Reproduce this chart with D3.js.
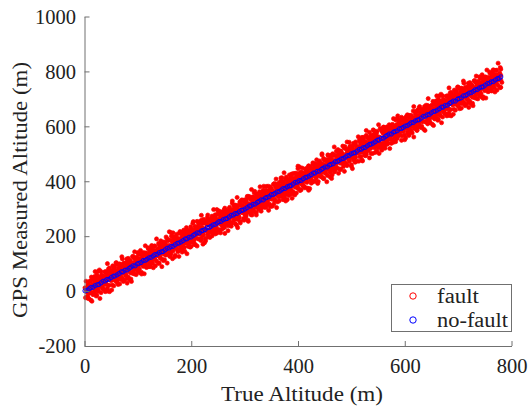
<!DOCTYPE html>
<html>
<head>
<meta charset="utf-8">
<script src="https://cdn.jsdelivr.net/npm/d3@7"></script>
<style>
html,body{margin:0;padding:0;background:#fff;}
svg{display:block;}
text{font-family:"Liberation Serif","Times New Roman",serif;fill:#222;}
</style>
</head>
<body>
<svg id="chart" width="528" height="408"></svg>
<script>
// ---- data ----
const xTicks = [0, 200, 400, 600, 800];
const yTicks = [-200, 0, 200, 400, 600, 800, 1000];
const seriesNames = ["fault", "no-fault"];
const seriesColors = ["#ff0000", "#0000ff"];

// fault: true altitude (m)
const faultTrue = [
0,1,2,2,4,5,6,7,8,10,10,11,13,14,14,16,17,18,19,19,
20,21,22,22,24,25,26,27,28,30,30,31,33,34,34,36,37,38,39,39,
40,41,42,42,44,45,46,47,48,50,50,51,53,54,54,56,57,58,59,59,
60,61,62,62,64,65,66,67,68,70,70,71,73,74,74,76,77,78,79,79,
80,81,82,82,84,85,86,87,88,90,90,91,93,94,94,96,97,98,99,99,
100,101,102,102,104,105,106,107,108,110,110,111,113,114,114,116,117,118,119,119,
120,121,122,122,124,125,126,127,128,130,130,131,133,134,134,136,137,138,139,139,
140,141,142,142,144,145,146,147,148,150,150,151,153,154,154,156,157,158,159,159,
160,161,162,162,164,165,166,167,168,170,170,171,173,174,174,176,177,178,179,179,
180,181,182,182,184,185,186,187,188,190,190,191,193,194,194,196,197,198,199,199,
200,201,202,202,204,205,206,207,208,210,210,211,213,214,214,216,217,218,219,219,
220,221,222,222,224,225,226,227,228,230,230,231,233,234,234,236,237,238,239,239,
240,241,242,242,244,245,246,247,248,250,250,251,253,254,254,256,257,258,259,259,
260,261,262,262,264,265,266,267,268,270,270,271,273,274,274,276,277,278,279,279,
280,281,282,282,284,285,286,287,288,290,290,291,293,294,294,296,297,298,299,299,
300,301,302,302,304,305,306,307,308,310,310,311,313,314,314,316,317,318,319,319,
320,321,322,322,324,325,326,327,328,330,330,331,333,334,334,336,337,338,339,339,
340,341,342,342,344,345,346,347,348,350,350,351,353,354,354,356,357,358,359,359,
360,361,362,362,364,365,366,367,368,370,370,371,373,374,374,376,377,378,379,379,
380,381,382,382,384,385,386,387,388,390,390,391,393,394,394,396,397,398,399,399,
400,401,402,402,404,405,406,407,408,410,410,411,413,414,414,416,417,418,419,419,
420,421,422,422,424,425,426,427,428,430,430,431,433,434,434,436,437,438,439,439,
440,441,442,442,444,445,446,447,448,450,450,451,453,454,454,456,457,458,459,459,
460,461,462,462,464,465,466,467,468,470,470,471,473,474,474,476,477,478,479,479,
480,481,482,482,484,485,486,487,488,490,490,491,493,494,494,496,497,498,499,499,
500,501,502,502,504,505,506,507,508,510,510,511,513,514,514,516,517,518,519,519,
520,521,522,522,524,525,526,527,528,530,530,531,533,534,534,536,537,538,539,539,
540,541,542,542,544,545,546,547,548,550,550,551,553,554,554,556,557,558,559,559,
560,561,562,562,564,565,566,567,568,570,570,571,573,574,574,576,577,578,579,579,
580,581,582,582,584,585,586,587,588,590,590,591,593,594,594,596,597,598,599,599,
600,601,602,602,604,605,606,607,608,610,610,611,613,614,614,616,617,618,619,619,
620,621,622,622,624,625,626,627,628,630,630,631,633,634,634,636,637,638,639,639,
640,641,642,642,644,645,646,647,648,650,650,651,653,654,654,656,657,658,659,659,
660,661,662,662,664,665,666,667,668,670,670,671,673,674,674,676,677,678,679,679,
680,681,682,682,684,685,686,687,688,690,690,691,693,694,694,696,697,698,699,699,
700,701,702,702,704,705,706,707,708,710,710,711,713,714,714,716,717,718,719,719,
720,721,722,722,724,725,726,727,728,730,730,731,733,734,734,736,737,738,739,739,
740,741,742,742,744,745,746,747,748,750,750,751,753,754,754,756,757,758,759,759,
760,761,762,762,764,765,766,767,768,770,770,771,773,774,774,776,777,778,779,779,
5,6,7,7,9,10,11,12,13,15,15,16,18,19,19,21,22,23,24,24,
25,26,27,27,29,30,31,32,33,35,35,36,38,39,39,41,42,43,44,44,
45,46,47,47,49,50,51,52,53,55,55,56,58,59,59,61,62,63,64,64,
65,66,67,67,69,70,71,72,73,75,75,76,78,79,79,81,82,83,84,84,
85,86,87,87,89,90,91,92,93,95,95,96,98,99,99,101,102,103,104,104,
105,106,107,107,109,110,111,112,113,115,115,116,118,119,119,121,122,123,124,124,
125,126,127,127,129,130,131,132,133,135,135,136,138,139,139,141,142,143,144,144,
145,146,147,147,149,150,151,152,153,155,155,156,158,159,159,161,162,163,164,164,
165,166,167,167,169,170,171,172,173,175,175,176,178,179,179,181,182,183,184,184,
185,186,187,187,189,190,191,192,193,195,195,196,198,199,199,201,202,203,204,204,
205,206,207,207,209,210,211,212,213,215,215,216,218,219,219,221,222,223,224,224,
225,226,227,227,229,230,231,232,233,235,235,236,238,239,239,241,242,243,244,244,
245,246,247,247,249,250,251,252,253,255,255,256,258,259,259,261,262,263,264,264,
265,266,267,267,269,270,271,272,273,275,275,276,278,279,279,281,282,283,284,284,
285,286,287,287,289,290,291,292,293,295,295,296,298,299,299,301,302,303,304,304,
305,306,307,307,309,310,311,312,313,315,315,316,318,319,319,321,322,323,324,324,
325,326,327,327,329,330,331,332,333,335,335,336,338,339,339,341,342,343,344,344,
345,346,347,347,349,350,351,352,353,355,355,356,358,359,359,361,362,363,364,364,
365,366,367,367,369,370,371,372,373,375,375,376,378,379,379,381,382,383,384,384,
385,386,387,387,389,390,391,392,393,395,395,396,398,399,399,401,402,403,404,404,
405,406,407,407,409,410,411,412,413,415,415,416,418,419,419,421,422,423,424,424,
425,426,427,427,429,430,431,432,433,435,435,436,438,439,439,441,442,443,444,444,
445,446,447,447,449,450,451,452,453,455,455,456,458,459,459,461,462,463,464,464,
465,466,467,467,469,470,471,472,473,475,475,476,478,479,479,481,482,483,484,484,
485,486,487,487,489,490,491,492,493,495,495,496,498,499,499,501,502,503,504,504,
505,506,507,507,509,510,511,512,513,515,515,516,518,519,519,521,522,523,524,524,
525,526,527,527,529,530,531,532,533,535,535,536,538,539,539,541,542,543,544,544,
545,546,547,547,549,550,551,552,553,555,555,556,558,559,559,561,562,563,564,564,
565,566,567,567,569,570,571,572,573,575,575,576,578,579,579,581,582,583,584,584,
585,586,587,587,589,590,591,592,593,595,595,596,598,599,599,601,602,603,604,604,
605,606,607,607,609,610,611,612,613,615,615,616,618,619,619,621,622,623,624,624,
625,626,627,627,629,630,631,632,633,635,635,636,638,639,639,641,642,643,644,644,
645,646,647,647,649,650,651,652,653,655,655,656,658,659,659,661,662,663,664,664,
665,666,667,667,669,670,671,672,673,675,675,676,678,679,679,681,682,683,684,684,
685,686,687,687,689,690,691,692,693,695,695,696,698,699,699,701,702,703,704,704,
705,706,707,707,709,710,711,712,713,715,715,716,718,719,719,721,722,723,724,724,
725,726,727,727,729,730,731,732,733,735,735,736,738,739,739,741,742,743,744,744,
745,746,747,747,749,750,751,752,753,755,755,756,758,759,759,761,762,763,764,764,
765,766,767,767,769,770,771,772,773,775,775,776,778,779,779,781
];
// fault: GPS measured altitude (m)
const faultGPS = [
12,-24,5,36,-4,-26,24,12,-7,37,8,-33,22,45,-5,16,39,7,71,-10,
34,15,58,-15,31,4,51,26,-27,46,71,18,35,7,54,27,70,-2,50,35,
68,24,100,9,50,21,84,44,61,4,74,59,41,84,19,73,50,103,39,60,
32,71,97,46,68,26,87,57,97,117,47,86,68,40,100,79,59,117,29,87,
99,51,82,114,70,108,44,98,87,127,64,97,143,85,109,60,124,78,103,87,
93,134,80,118,148,102,68,128,117,94,140,63,115,139,103,129,88,158,113,137,
125,102,148,89,136,163,118,147,85,131,164,116,142,109,190,132,154,101,168,129,
127,163,140,183,117,152,161,111,179,144,174,131,156,102,190,166,140,186,128,165,
131,213,151,184,164,146,197,176,124,168,197,156,178,192,143,168,211,181,154,191,
176,192,142,215,175,205,159,189,175,231,206,136,192,219,173,203,160,234,193,213,
201,181,247,195,221,170,236,195,216,234,164,224,210,252,190,222,184,276,202,247,
228,171,261,204,227,251,192,222,243,207,277,260,223,255,195,240,221,273,249,211,
228,245,222,269,208,260,237,297,254,224,287,250,264,212,277,242,289,258,229,278,
278,255,302,233,277,254,291,269,220,300,254,280,294,236,271,320,293,256,312,272,
270,310,245,299,280,341,261,296,273,324,291,248,313,286,332,308,264,324,280,304,
306,270,330,285,314,341,254,310,288,334,304,342,277,329,321,289,358,316,341,306,
318,277,331,353,305,325,348,316,380,301,342,306,336,368,326,305,355,343,324,366,
381,328,344,315,364,336,379,307,359,346,364,345,389,317,361,335,382,357,304,375,
384,369,350,392,329,382,359,412,348,371,398,354,431,341,380,352,415,375,392,333,
357,396,377,348,410,388,368,426,338,398,362,401,428,378,398,357,418,388,428,446,
374,407,452,393,419,369,433,387,412,398,429,381,413,446,400,439,375,429,418,456,
450,373,424,447,413,438,397,467,422,448,423,464,411,450,478,433,399,459,448,423,
474,426,451,417,500,441,463,410,477,440,455,432,479,421,466,494,449,478,416,460,
484,441,465,410,500,475,449,495,437,476,457,493,471,515,447,483,492,442,510,473,
507,466,487,500,453,477,520,490,463,502,461,543,482,516,494,477,528,507,455,497,
516,446,501,527,483,512,469,543,502,524,506,522,473,547,505,536,490,520,506,560,
474,534,519,560,500,531,493,585,511,558,531,511,578,527,551,501,567,526,547,563,
587,570,532,563,505,549,530,582,558,522,558,501,592,536,557,582,523,553,574,536,
597,560,573,520,587,551,598,567,538,589,558,575,553,601,538,591,568,628,585,553,
564,590,603,544,581,629,602,565,621,583,608,585,633,565,607,585,622,600,551,629,
601,558,622,594,642,617,573,633,589,615,600,640,576,631,610,672,592,627,604,653,
614,652,586,637,631,598,667,625,650,617,636,600,661,617,644,672,585,641,619,663,
652,616,645,676,636,614,664,652,633,677,648,607,662,685,635,656,679,647,711,630,
674,655,698,625,671,644,691,666,613,686,711,658,675,647,694,667,710,638,690,675,
708,664,740,649,690,661,724,684,701,644,714,699,681,724,659,713,690,743,679,700,
672,711,737,686,708,666,727,697,737,757,687,726,708,680,740,719,699,757,669,727,
739,691,722,754,710,748,684,738,727,767,704,737,783,725,749,700,764,718,743,727,
733,774,720,758,788,742,708,768,757,734,780,703,755,779,743,769,728,798,753,777,
765,742,788,729,776,803,758,787,725,771,804,756,782,749,830,772,794,741,808,769,
-18,21,2,-27,35,13,-7,51,-37,23,-13,26,53,3,23,-18,43,13,53,71,
-1,32,77,18,44,-6,58,12,37,23,54,6,38,71,25,64,0,54,43,81,
75,-2,49,72,38,63,22,92,47,73,48,89,36,75,103,58,24,84,73,48,
99,51,76,42,125,66,88,35,102,65,80,57,104,46,91,119,74,103,41,85,
109,66,90,35,125,100,74,120,62,101,82,118,96,140,72,108,117,67,135,98,
103,62,116,138,90,110,133,101,165,86,127,91,121,153,111,90,140,128,109,151,
166,113,129,100,149,121,164,92,144,131,149,130,174,102,146,120,167,142,89,160,
169,154,135,177,114,167,144,197,133,156,183,139,216,126,165,137,200,160,177,118,
212,195,157,188,130,174,155,207,183,147,183,126,217,161,182,207,148,178,199,161,
222,185,198,145,212,176,223,192,163,214,183,200,178,226,163,216,193,253,210,178,
189,215,228,169,206,254,227,190,246,208,233,210,258,190,232,210,247,225,176,254,
226,183,247,219,267,242,198,258,214,240,225,265,201,256,235,297,217,252,229,278,
239,277,211,262,256,223,292,250,275,242,261,225,286,242,269,297,210,266,244,288,
292,251,272,285,238,262,305,275,248,287,246,328,267,301,279,262,313,292,240,282,
301,231,286,312,268,297,254,328,287,309,291,307,258,332,290,321,275,305,291,345,
259,319,304,345,285,316,278,370,296,343,316,296,363,312,336,286,352,311,332,348,
297,336,362,311,333,291,352,322,362,382,312,351,333,305,365,344,324,382,294,352,
364,316,347,379,335,373,309,363,352,392,329,362,408,350,374,325,389,343,368,352,
358,399,345,383,413,367,333,393,382,359,405,328,380,404,368,394,353,423,378,402,
390,367,413,354,401,428,383,412,350,396,429,381,407,374,455,397,419,366,433,394,
392,428,405,448,382,417,426,376,444,409,439,396,421,367,455,431,405,451,393,430,
437,401,430,461,421,399,449,437,418,462,433,392,447,470,420,441,464,432,496,415,
459,440,483,410,456,429,476,451,398,471,496,443,460,432,479,452,495,423,475,460,
493,449,525,434,475,446,509,469,486,429,499,484,466,509,444,498,475,528,464,485,
493,436,526,469,492,516,457,487,508,472,542,525,488,520,460,505,486,538,514,476,
493,510,487,534,473,525,502,562,519,489,552,515,529,477,542,507,554,523,494,543,
543,520,567,498,542,519,556,534,485,565,519,545,559,501,536,585,558,521,577,537,
535,575,510,564,545,606,526,561,538,589,556,513,578,551,597,573,529,589,545,569,
571,535,595,550,579,606,519,575,553,599,569,607,542,594,586,554,623,581,606,571,
556,638,576,609,589,571,622,601,549,593,622,581,603,617,568,593,636,606,579,616,
601,617,567,640,600,630,584,614,600,656,631,561,617,644,598,628,585,659,618,638,
626,606,672,620,646,595,661,620,641,659,589,649,635,677,615,647,609,701,627,672,
622,661,642,613,675,653,633,691,603,663,627,666,693,643,663,622,683,653,693,711,
639,672,717,658,684,634,698,652,677,663,694,646,678,711,665,704,640,694,683,721,
715,638,689,712,678,703,662,732,687,713,688,729,676,715,743,698,664,724,713,688,
739,691,716,682,765,706,728,675,742,705,720,697,744,686,731,759,714,743,681,725,
749,706,730,675,765,740,714,760,702,741,722,758,736,780,712,748,757,707,775,738,
743,702,756,778,730,750,773,741,805,726,767,731,761,793,751,730,780,768,749,791,
806,753,769,740,789,761,804,732,784,771,789,770,814,742,786,760
];

// no-fault: true altitude (m)
const noFaultTrue = [
0,4,8,11,15,19,23,26, 30,34,38,41,45,49,53,56,
60,64,68,71,75,79,83,86, 90,94,98,101,105,109,113,116,
120,124,128,131,135,139,143,146, 150,154,158,161,165,169,173,176,
180,184,188,191,195,199,203,206, 210,214,218,221,225,229,233,236,
240,244,248,251,255,259,263,266, 270,274,278,281,285,289,293,296,
300,304,308,311,315,319,323,326, 330,334,338,341,345,349,353,356,
360,364,368,371,375,379,383,386, 390,394,398,401,405,409,413,416,
420,424,428,431,435,439,443,446, 450,454,458,461,465,469,473,476,
480,484,488,491,495,499,503,506, 510,514,518,521,525,529,533,536,
540,544,548,551,555,559,563,566, 570,574,578,581,585,589,593,596,
600,604,608,611,615,619,623,626, 630,634,638,641,645,649,653,656,
660,664,668,671,675,679,683,686, 690,694,698,701,705,709,713,716,
720,724,728,731,735,739,743,746, 750,754,758,761,765,769,773,776,779
];
// no-fault: GPS measured altitude (m)
const noFaultGPS = [
1,3,8,13,14,20,23,24, 30,36,37,42,43,49,54,55,
59,64,70,70,76,77,83,87, 92,92,99,101,104,111,112,116,
121,123,128,133,134,140,143,144, 150,156,157,162,163,169,174,175,
179,184,190,190,196,197,203,207, 212,212,219,221,224,231,232,236,
241,243,248,253,254,260,263,264, 270,276,277,282,283,289,294,295,
299,304,310,310,316,317,323,327, 332,332,339,341,344,351,352,356,
361,363,368,373,374,380,383,384, 390,396,397,402,403,409,414,415,
419,424,430,430,436,437,443,447, 452,452,459,461,464,471,472,476,
481,483,488,493,494,500,503,504, 510,516,517,522,523,529,534,535,
539,544,550,550,556,557,563,567, 572,572,579,581,584,591,592,596,
601,603,608,613,614,620,623,624, 630,636,637,642,643,649,654,655,
659,664,670,670,676,677,683,687, 692,692,699,701,704,711,712,716,
721,723,728,733,734,740,743,744, 750,756,757,762,763,769,774,775,780
];

// ---- drawing ----
const svg = d3.select("#chart");
const x = d3.scaleLinear().domain([0, 800]).range([84.5, 511.5]);
const y = d3.scaleLinear().domain([-200, 1000]).range([346, 16.5]);
const axisColor = "#707070";

const fault = faultTrue.map((t, i) => ({t, g: faultGPS[i]}));
const noFault = noFaultTrue.map((t, i) => ({t, g: noFaultGPS[i]}));

svg.append("g").selectAll("circle").data(fault).join("circle")
  .attr("cx", d => x(d.t) + 0.5).attr("cy", d => y(d.g))
  .attr("r", 2.05)
  .attr("fill", seriesColors[0]).attr("stroke", seriesColors[0]).attr("stroke-width", 0.7);

svg.append("g").selectAll("circle").data(noFault).join("circle")
  .attr("cx", d => x(d.t) + 0.5).attr("cy", d => y(d.g))
  .attr("r", 2.1)
  .attr("fill", "none").attr("stroke", seriesColors[1]).attr("stroke-width", 1);

// axes
const fmt = d => String(d);
const gx = svg.append("g").attr("transform", `translate(0,${y(-200)})`)
  .call(d3.axisBottom(x).tickValues(xTicks).tickFormat(fmt).tickSizeInner(-5).tickSizeOuter(0).tickPadding(0));
const gy = svg.append("g").attr("transform", `translate(${x(0)},0)`)
  .call(d3.axisLeft(y).tickValues(yTicks).tickFormat(fmt).tickSizeInner(-5).tickSizeOuter(0).tickPadding(8.5));

[gx, gy].forEach(g => {
  g.select(".domain").attr("stroke", axisColor);
  g.selectAll(".tick line").attr("stroke", axisColor);
  g.selectAll(".tick text").attr("font-family", "Liberation Serif, serif")
    .attr("font-size", 20.5).attr("fill", "#222");
});
gx.selectAll(".tick text").attr("y", 0).attr("dy", 27);
gy.selectAll(".tick text").attr("dy", "0.33em");

// axis titles
svg.append("text").attr("x", 302).attr("y", 401)
  .attr("text-anchor", "middle").attr("font-size", 20.5)
  .attr("textLength", 162).attr("lengthAdjust", "spacingAndGlyphs")
  .text("True Altitude (m)");
svg.append("text").attr("transform", "translate(26.5,190) rotate(-90)")
  .attr("text-anchor", "middle").attr("font-size", 20.5)
  .attr("textLength", 256).attr("lengthAdjust", "spacingAndGlyphs")
  .text("GPS Measured Altitude (m)");

// legend
const lg = svg.append("g");
lg.append("rect").attr("x", 391.5).attr("y", 284.5).attr("width", 120).attr("height", 47)
  .attr("fill", "#fff").attr("stroke", axisColor).attr("stroke-width", 1);
seriesNames.forEach((name, i) => {
  const cy = 296 + i * 24;
  lg.append("circle").attr("cx", 413).attr("cy", cy).attr("r", 3.2)
    .attr("fill", "none").attr("stroke", seriesColors[i]).attr("stroke-width", 1);
  lg.append("text").attr("x", 437).attr("y", cy + 6.5).attr("font-size", 20.5)
    .attr("textLength", i === 0 ? 42 : 71).attr("lengthAdjust", "spacingAndGlyphs")
    .text(name);
});
</script>
</body>
</html>
